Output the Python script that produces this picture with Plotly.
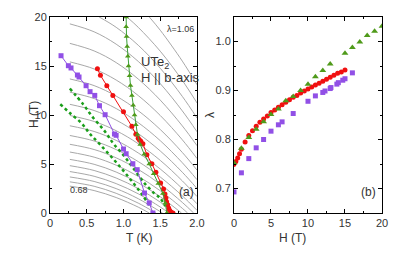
import plotly.graph_objects as go

# ---------------- Panel (a): H-T phase diagram ----------------
purple_T = [0.15, 0.25, 0.286, 0.373, 0.395, 0.491, 0.545, 0.609, 0.673, 0.75,
            0.877, 0.90, 1.0, 1.036, 1.127, 1.186, 1.286, 1.35, 1.40]
purple_H = [16.05, 15.03, 14.8, 14.08, 13.88, 12.99, 12.38, 12.0, 10.95, 10.03,
            8.06, 7.93, 6.53, 6.05, 5.03, 4.42, 2.04, 1.02, 0.0]

red_T = [0.645, 0.686, 0.773, 0.855, 1.0, 1.114, 1.168, 1.2, 1.218, 1.236, 1.264,
         1.318, 1.386, 1.441, 1.505, 1.545, 1.564, 1.577, 1.586, 1.60, 1.614,
         1.627, 1.645, 1.673]
red_H = [14.73, 14.05, 12.99, 12.0, 10.34, 8.84, 8.03, 7.62, 7.45, 7.31, 7.07,
         5.95, 5.03, 4.15, 3.06, 2.45, 1.94, 1.53, 1.16, 0.85, 0.51, 0.27, 0.10, 0.0]

green_H = [20, 19, 18, 17, 16, 15, 14, 13, 12, 11, 10, 9, 8, 7, 6, 5, 4, 3, 2, 1, 0]
green_T = [1.036, 1.036, 1.041, 1.05, 1.059, 1.068, 1.082, 1.095, 1.114, 1.132,
           1.15, 1.168, 1.19, 1.227, 1.282, 1.35, 1.41, 1.473, 1.536, 1.568, 1.59]

dots_upper_T = [0.27, 0.45, 0.59, 0.75, 0.86, 1.0, 1.13, 1.29, 1.42, 1.5, 1.57]
dots_upper_H = [12.7, 11.1, 9.7, 8.3, 7.1, 5.9, 4.6, 3.0, 2.0, 1.5, 0.7]
dots_lower_T = [0.14, 0.27, 0.43, 0.54, 0.68, 0.85, 1.0, 1.15, 1.27, 1.35]
dots_lower_H = [11.1, 10.2, 9.15, 8.1, 7.0, 5.6, 4.3, 2.9, 1.7, 0.8]

# constant-lambda guide curves (lambda = 0.68 ... 1.06)
grid_lambda = [0.68, 0.70, 0.72, 0.74, 0.76, 0.78, 0.80, 0.82, 0.84, 0.86,
               0.88, 0.90, 0.92, 0.94, 0.96, 0.98, 1.00, 1.02, 1.04, 1.06]
T7 = [0.27, 0.6, 0.9, 1.2, 1.5, 1.8, 2.0]
grid_T = [
    [0.27, 0.6, 0.9, 1.2, 1.35],
    [0.27, 0.6, 0.9, 1.2, 1.44],
    [0.27, 0.6, 0.9, 1.2, 1.53],
    [0.27, 0.6, 0.9, 1.2, 1.5, 1.618],
    [0.27, 0.6, 0.9, 1.2, 1.5, 1.704],
    [0.27, 0.6, 0.9, 1.2, 1.5, 1.789],
    [0.27, 0.6, 0.9, 1.2, 1.5, 1.8, 1.872],
    [0.27, 0.6, 0.9, 1.2, 1.5, 1.8, 1.954],
    T7, T7, T7, T7, T7, T7, T7, T7, T7,
    [0.669, 0.9, 1.2, 1.5, 1.8, 2.0],
    [1.046, 1.2, 1.5, 1.8, 2.0],
    [1.351, 1.5, 1.8, 2.0],
]
grid_H = [
    [2.74, 2.29, 1.58, 0.60, 0],
    [3.18, 2.73, 2.01, 1.01, 0],
    [3.68, 3.22, 2.49, 1.46, 0],
    [4.23, 3.75, 3.00, 1.96, 0.61, 0],
    [4.83, 4.34, 3.57, 2.50, 1.11, 0],
    [5.47, 4.97, 4.18, 3.08, 1.66, 0],
    [6.22, 5.70, 4.88, 3.74, 2.27, 0.48, 0],
    [7.01, 6.48, 5.63, 4.45, 2.94, 1.08, 0],
    [7.91, 7.35, 6.47, 5.25, 3.67, 1.75, 0.27],
    [8.90, 8.32, 7.41, 6.13, 4.49, 2.48, 0.94],
    [9.95, 9.34, 8.40, 7.07, 5.37, 3.28, 1.68],
    [11.09, 10.46, 9.48, 8.10, 6.33, 4.16, 2.50],
    [12.33, 11.68, 10.66, 9.22, 7.38, 5.13, 3.40],
    [13.68, 13.0, 11.93, 10.44, 8.52, 6.18, 4.38],
    [15.42, 14.70, 13.57, 11.99, 9.95, 7.47, 5.56],
    [17.31, 16.54, 15.35, 13.67, 11.52, 8.89, 6.87],
    [19.30, 18.49, 17.23, 15.47, 13.20, 10.42, 8.29],
    [20.0, 18.95, 17.12, 14.77, 11.90, 9.69],
    [20.0, 18.95, 16.51, 13.53, 11.23],
    [20.0, 18.65, 15.50, 13.09],
]

# ---------------- Panel (b): lambda vs H ----------------
b_purple_H = [0, 1, 2, 3, 4, 5, 6, 6.5, 8, 10, 11, 12, 12.3, 13, 13.1, 13.9,
              14.1, 14.7, 15, 16]
b_purple_lam = [0.693, 0.732, 0.761, 0.783, 0.800, 0.817, 0.830, 0.836, 0.853,
                0.878, 0.889, 0.896, 0.899, 0.904, 0.906, 0.913, 0.916, 0.921,
                0.924, 0.936]

b_red_H = [0, 0.25, 0.5, 0.75, 1, 1.5, 2, 2.5, 3, 3.5, 4, 4.5, 5, 5.5, 6, 6.5, 7,
           7.5, 8, 8.5, 9, 9.5, 10, 10.5, 11, 11.5, 12, 12.5, 13, 13.5, 14,
           14.5, 15]
b_red_lam = [0.749, 0.755, 0.762, 0.771, 0.780, 0.795, 0.808, 0.818, 0.827,
             0.835, 0.842, 0.848, 0.855, 0.860, 0.866, 0.871, 0.876, 0.881,
             0.886, 0.890, 0.895, 0.899, 0.903, 0.907, 0.911, 0.915, 0.919,
             0.923, 0.927, 0.931, 0.935, 0.938, 0.942]

b_green_H = [0, 1, 2, 3, 4, 5, 6, 7, 8, 9, 10, 11, 12, 13, 15, 16, 17, 18, 19, 20]
b_green_lam = [0.752, 0.782, 0.804, 0.821, 0.836, 0.851, 0.862, 0.879, 0.888,
               0.900, 0.913, 0.928, 0.941, 0.954, 0.976, 0.988, 0.999, 1.012,
               1.021, 1.031]

PURPLE = "#9150e6"
RED = "#f01010"
GREEN_TRI = "#4f9a1a"
GREEN_LINE = "#3aa03a"
GREEN_DOT = "#1a9e1a"
GRAY = "#a8a8a8"
FONT = "Liberation Sans, Arial, sans-serif"
TXT = "#333333"

fig = go.Figure()

for ts, hs in zip(grid_T, grid_H):
    fig.add_trace(go.Scatter(x=ts, y=hs, mode="lines", xaxis="x", yaxis="y",
                             line=dict(color=GRAY, width=1, shape="spline"),
                             hoverinfo="skip", showlegend=False))

for ts, hs in [(dots_upper_T, dots_upper_H), (dots_lower_T, dots_lower_H)]:
    fig.add_trace(go.Scatter(x=ts, y=hs, mode="lines", xaxis="x", yaxis="y",
                             line=dict(color=GREEN_DOT, width=2.5, dash="dot",
                                       shape="spline"),
                             showlegend=False))

fig.add_trace(go.Scatter(x=purple_T, y=purple_H, mode="lines+markers",
                         xaxis="x", yaxis="y",
                         line=dict(color=PURPLE, width=1),
                         marker=dict(symbol="square", size=5, color=PURPLE),
                         showlegend=False))
fig.add_trace(go.Scatter(x=red_T, y=red_H, mode="lines+markers",
                         xaxis="x", yaxis="y",
                         line=dict(color=RED, width=1),
                         marker=dict(symbol="circle", size=5, color=RED),
                         showlegend=False))
fig.add_trace(go.Scatter(x=green_T, y=green_H, mode="lines+markers",
                         xaxis="x", yaxis="y",
                         line=dict(color=GREEN_LINE, width=1),
                         marker=dict(symbol="triangle-up", size=5, color=GREEN_TRI),
                         showlegend=False))

fig.add_trace(go.Scatter(x=b_purple_H, y=b_purple_lam, mode="markers",
                         xaxis="x2", yaxis="y2",
                         marker=dict(symbol="square", size=5, color=PURPLE),
                         showlegend=False))
fig.add_trace(go.Scatter(x=b_red_H, y=b_red_lam, mode="markers",
                         xaxis="x2", yaxis="y2",
                         marker=dict(symbol="circle", size=5, color=RED),
                         showlegend=False))
fig.add_trace(go.Scatter(x=b_green_H, y=b_green_lam, mode="markers",
                         xaxis="x2", yaxis="y2",
                         marker=dict(symbol="triangle-up", size=6, color=GREEN_TRI),
                         showlegend=False))

axis_common = dict(showline=True, linecolor="black", linewidth=1, mirror="allticks",
                   ticks="inside", ticklen=4, tickcolor="black", showgrid=False,
                   zeroline=False, automargin=False,
                   tickfont=dict(family=FONT, size=11, color=TXT))

fig.update_layout(
    width=415, height=258,
    margin=dict(l=50, r=33, t=17, b=45),
    paper_bgcolor="white", plot_bgcolor="white",
    font=dict(family=FONT, color=TXT),
    xaxis=dict(domain=[0, 0.4428], range=[0, 2.0],
               tickvals=[0, 0.5, 1.0, 1.5, 2.0],
               ticktext=["0", "0.5", "1.0", "1.5", "2.0"],
               minor=dict(ticks="inside", ticklen=2, dtick=0.25, tickcolor="black"),
               anchor="y", **axis_common),
    yaxis=dict(domain=[0, 1], range=[0, 20], tickvals=[0, 5, 10, 15, 20],
               minor=dict(ticks="inside", ticklen=2, dtick=2.5, tickcolor="black"),
               anchor="x", **axis_common),
    xaxis2=dict(domain=[0.5542, 1], range=[0, 20], tickvals=[0, 5, 10, 15, 20],
                minor=dict(ticks="inside", ticklen=2, dtick=2.5, tickcolor="black"),
                anchor="y2", **axis_common),
    yaxis2=dict(domain=[0, 1], range=[0.65, 1.05],
                tickvals=[0.7, 0.8, 0.9, 1.0], ticktext=["0.7", "0.8", "0.9", "1.0"],
                minor=dict(ticks="inside", ticklen=2, dtick=0.05, tickcolor="black"),
                anchor="x2", **axis_common),
    annotations=[
        # axis titles
        dict(text="T (K)", x=0.2214, y=-0.0816, xref="paper", yref="paper",
             yanchor="top", showarrow=False, font=dict(family=FONT, size=12, color=TXT)),
        dict(text="H (T)", x=0.7771, y=-0.0816, xref="paper", yref="paper",
             yanchor="top", showarrow=False, font=dict(family=FONT, size=12, color=TXT)),
        dict(text="H (T)", x=-0.0753, y=0.5, xref="paper", yref="paper",
             showarrow=False, textangle=-90, font=dict(family=FONT, size=12, color=TXT)),
        dict(text="λ", x=0.482, y=0.5, xref="paper", yref="paper",
             showarrow=False, textangle=-90, font=dict(family=FONT, size=12, color=TXT)),
        # in-plot labels
        dict(text="λ=1.06", x=1.57, y=18.8, xref="x", yref="y", showarrow=False,
             xanchor="left", font=dict(family=FONT, size=9, color=TXT)),
        dict(text="UTe<sub>2</sub>", x=1.21, y=15.4, xref="x", yref="y",
             showarrow=False, xanchor="left", font=dict(family=FONT, size=13, color=TXT)),
        dict(text="H || b-axis", x=1.21, y=13.8, xref="x", yref="y",
             showarrow=False, xanchor="left", font=dict(family=FONT, size=13, color=TXT)),
        dict(text="0.68", x=0.245, y=2.35, xref="x", yref="y", showarrow=False,
             xanchor="left", font=dict(family=FONT, size=9, color=TXT)),
        dict(text="(a)", x=1.73, y=2.15, xref="x", yref="y", showarrow=False,
             xanchor="left", font=dict(family=FONT, size=12, color=TXT)),
        dict(text="(b)", x=16.9, y=0.693, xref="x2", yref="y2", showarrow=False,
             xanchor="left", font=dict(family=FONT, size=12, color=TXT)),
    ],
)

fig.write_html("out.html", config={"displayModeBar": False},
               post_script="document.body.style.margin='0';document.body.style.padding='0';")
